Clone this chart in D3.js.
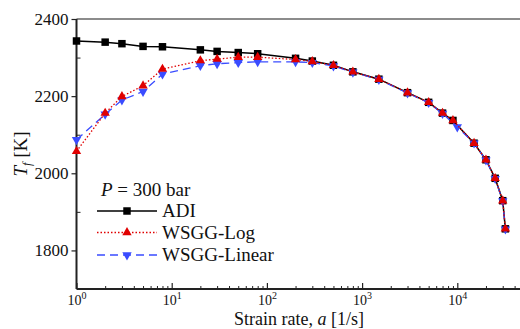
<!DOCTYPE html>
<html>
<head>
<meta charset="utf-8">
<script src="https://cdn.jsdelivr.net/npm/d3@7/dist/d3.min.js"></script>
<style>
  body { margin: 0; background: #fff; }
</style>
</head>
<body>
<svg id="chart"></svg>
<script>
// strain rate a [1/s]
const strainADI = [1, 2, 3, 5, 8, 20, 30, 50, 80, 200, 300, 500, 800, 1500, 3000, 5000, 7000, 9000, 15000, 20000, 25000, 30000, 32000];
const strainLinear = [1, 2, 3, 5, 8, 20, 30, 50, 80, 200, 300, 500, 800, 1500, 3000, 5000, 7000, 10000, 15000, 20000, 25000, 30000, 32000];
// flame temperature Tf [K]
const tfADI = [2343, 2340, 2336, 2329, 2328, 2320, 2316, 2313, 2310, 2298, 2291, 2280, 2263, 2244, 2209, 2184, 2156, 2137, 2078, 2035, 1987, 1929, 1856];
const tfLog = [2057, 2156, 2199, 2227, 2270, 2292, 2296, 2301, 2301, 2295, 2290, 2280, 2263, 2244, 2209, 2184, 2156, 2137, 2078, 2035, 1987, 1929, 1856];
const tfLinear = [2087, 2153, 2190, 2212, 2257, 2279, 2284, 2287, 2289, 2289, 2287, 2278, 2262, 2243, 2208, 2183, 2155, 2120, 2078, 2034, 1986, 1928, 1855];

const xMajor = [1, 10, 100, 1000, 10000];
const yMajor = [1800, 2000, 2200, 2400];
const yMinor = [1900, 2100, 2300];
const seriesNames = ['ADI', 'WSGG-Log', 'WSGG-Linear'];

const svgWidth = 520, svgHeight = 329;
const margin = { top: 19, left: 76.5, bottom: 289 };
const plotRight = 552.5; // axis runs past the cropped right edge
const serif = "'Liberation Serif', 'DejaVu Serif', serif";

const svg = d3.select('#chart')
  .attr('width', svgWidth)
  .attr('height', svgHeight);

const x = d3.scaleLog().domain([1, 1e5]).range([margin.left, plotRight]);
const y = d3.scaleLinear().domain([1700, 2400]).range([margin.bottom, margin.top]);

// minor x ticks
const xMinor = [];
for (let d = 1; d < 1e5; d *= 10) {
  for (let k = 2; k <= 9; k++) xMinor.push(d * k);
}

// frame
svg.append('line')
  .attr('x1', margin.left).attr('x2', plotRight)
  .attr('y1', margin.top).attr('y2', margin.top)
  .attr('stroke', '#666').attr('stroke-width', 1.6);

// y axis
const gY = svg.append('g').attr('transform', 'translate(' + margin.left + ',0)');
gY.call(d3.axisLeft(y).tickValues(yMajor).tickSize(5).tickPadding(3).tickFormat(d3.format('d')));
gY.select('.domain').remove();
gY.selectAll('.tick line').attr('stroke', '#222').attr('stroke-width', 1.2);
gY.selectAll('.tick text').attr('font-size', 17).attr('fill', '#111');
const gYm = svg.append('g').attr('transform', 'translate(' + margin.left + ',0)');
gYm.call(d3.axisRight(y).tickValues(yMinor).tickSize(4).tickFormat(''));
gYm.select('.domain').remove();
gYm.selectAll('.tick line').attr('stroke', '#222').attr('stroke-width', 1);

// x axis
const gX = svg.append('g').attr('transform', 'translate(0,' + margin.bottom + ')');
gX.call(d3.axisBottom(x).tickValues(xMajor).tickSizeInner(-6).tickSizeOuter(0).tickPadding(6).tickFormat(''));
gX.select('.domain').remove();
gX.selectAll('.tick line').attr('stroke', '#222').attr('stroke-width', 1.2);
gX.selectAll('.tick text').each(function (d) {
  const t = d3.select(this)
    .attr('font-size', 14).attr('fill', '#111')
    .attr('dy', '0.71em');
  t.append('tspan').text('10');
  t.append('tspan').attr('font-size', 10).attr('dy', -6).text(Math.round(Math.log10(d)));
});
const gXm = svg.append('g').attr('transform', 'translate(0,' + margin.bottom + ')');
gXm.call(d3.axisBottom(x).tickValues(xMinor).tickSizeInner(-3).tickSizeOuter(0).tickFormat(''));
gXm.select('.domain').remove();
gXm.selectAll('.tick line').attr('stroke', '#222').attr('stroke-width', 1);

// axis lines
svg.append('line')
  .attr('x1', margin.left).attr('x2', margin.left)
  .attr('y1', margin.top).attr('y2', margin.bottom)
  .attr('stroke', '#222').attr('stroke-width', 2);
svg.append('line')
  .attr('x1', margin.left).attr('x2', plotRight)
  .attr('y1', margin.bottom).attr('y2', margin.bottom)
  .attr('stroke', '#222').attr('stroke-width', 2);

// axis titles
const xTitle = svg.append('text')
  .attr('x', 299).attr('y', 325)
  .attr('text-anchor', 'middle')
  .attr('font-size', 18).attr('fill', '#111');
xTitle.append('tspan').text('Strain rate, ');
xTitle.append('tspan').attr('font-style', 'italic').text('a');
xTitle.append('tspan').text(' [1/s]');

const yTitle = svg.append('text')
  .attr('transform', 'translate(27,154) rotate(-90)')
  .attr('text-anchor', 'middle')
  .attr('font-size', 19).attr('fill', '#111');
yTitle.append('tspan').attr('font-style', 'italic').text('T');
yTitle.append('tspan').attr('font-style', 'italic').attr('font-size', 12).attr('dy', 4).text('f');
yTitle.append('tspan').attr('dy', -4).text(' [K]');

// series
const series = [
  { name: seriesNames[0], xs: strainADI, ys: tfADI, color: '#000', dash: null, symbol: d3.symbolSquare, size: 56, rot: 0 },
  { name: seriesNames[2], xs: strainLinear, ys: tfLinear, color: '#3a4cff', dash: '8,5', symbol: d3.symbolTriangle, size: 38, rot: 180 },
  { name: seriesNames[1], xs: strainADI, ys: tfLog, color: '#e00000', dash: '1.5,2', symbol: d3.symbolTriangle, size: 38, rot: 0 }
];

const line = d3.line().x(d => x(d[0])).y(d => y(d[1]));

series.forEach(s => {
  const pts = s.xs.map((v, i) => [v, s.ys[i]]);
  svg.append('path')
    .datum(pts)
    .attr('d', line)
    .attr('fill', 'none')
    .attr('stroke', s.color)
    .attr('stroke-width', s.dash ? 1.3 : 1.5)
    .attr('stroke-dasharray', s.dash);
  svg.append('g').selectAll('path')
    .data(pts)
    .enter()
    .append('path')
    .attr('d', d3.symbol().type(s.symbol).size(s.size))
    .attr('transform', d => 'translate(' + x(d[0]) + ',' + y(d[1]) + ') rotate(' + s.rot + ')')
    .attr('fill', s.color);
});

// legend, order: ADI, Log, Linear
const legend = svg.append('g');
const pLabel = legend.append('text').attr('x', 101).attr('y', 196).attr('font-size', 19).attr('fill', '#111');
pLabel.append('tspan').attr('font-style', 'italic').text('P');
pLabel.append('tspan').text(' = 300 bar');

const legendRows = [
  { s: series.find(d => d.name === seriesNames[0]), y: 211 },
  { s: series.find(d => d.name === seriesNames[1]), y: 232.5 },
  { s: series.find(d => d.name === seriesNames[2]), y: 255 }
];

legendRows.forEach(r => {
  legend.append('line')
    .attr('x1', 97).attr('x2', 157)
    .attr('y1', r.y).attr('y2', r.y)
    .attr('stroke', r.s.color)
    .attr('stroke-width', r.s.dash ? 1.3 : 1.5)
    .attr('stroke-dasharray', r.s.dash);
  legend.append('path')
    .attr('d', d3.symbol().type(r.s.symbol).size(r.s.size))
    .attr('transform', 'translate(127,' + r.y + ') rotate(' + r.s.rot + ')')
    .attr('fill', r.s.color);
  legend.append('text')
    .attr('x', 162).attr('y', r.y + 6)
    .attr('font-size', 19).attr('fill', '#111')
    .text(r.s.name);
});

// every text in serif, set inline so it wins over the axis defaults
svg.selectAll('text').style('font-family', serif);
</script>
</body>
</html>
